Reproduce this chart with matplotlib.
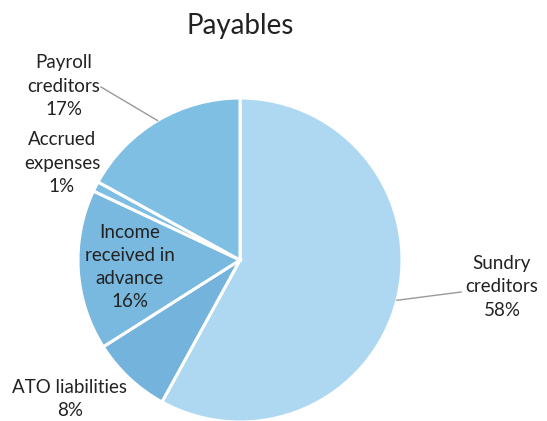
import numpy as np
import matplotlib.pyplot as plt

# data
labels = ['Sundry\ncreditors', 'ATO liabilities', 'Income\nreceived in\nadvance',
          'Accrued\nexpenses', 'Payroll\ncreditors']
values = [58, 8, 16, 1, 17]
colors = ['#aed8f2', '#74b3dc', '#79b8df', '#7fbee4', '#80bfe4']

plt.rcParams['font.family'] = ['Lato', 'DejaVu Sans']

fig = plt.figure(figsize=(5.47, 4.21), dpi=100)
ax = fig.add_axes([0, 0, 1, 1])

cx, cy, r = 240, 421 - 260, 162
wedges, _ = ax.pie(values, colors=colors, startangle=90, counterclock=False,
                   center=(cx, cy), radius=r, frame=True,
                   wedgeprops=dict(edgecolor='white', linewidth=2.2))
ax.set_xlim(0, 547)
ax.set_ylim(0, 421)
ax.set_aspect('equal')
ax.axis('off')

fig.text(0.44, 1 - 26 / 421, 'Payables', ha='center', va='center', fontsize=20, color='#222222')

# label positions in pixel coords (x, y from top)
label_pos = [(502, 287), (70, 399), (130, 267), (62, 163), (64, 86)]
for w, lab, v, (px, py) in zip(wedges, labels, values, label_pos):
    txt = f'{lab}\n{v}%'
    ax.text(px, 421 - py, txt, ha='center', va='center', fontsize=13.5,
            color='#222222', linespacing=1.45)

# leader lines
mid = np.deg2rad((wedges[0].theta1 + wedges[0].theta2) / 2)
ax.plot([cx + r * np.cos(mid), 461], [cy + r * np.sin(mid), 421 - 292],
        color='#999999', lw=1)
mid = np.deg2rad((wedges[4].theta1 + wedges[4].theta2) / 2)
ax.plot([cx + r * np.cos(mid), 101], [cy + r * np.sin(mid), 421 - 87],
        color='#999999', lw=1)

fig.savefig('out.png', dpi=100)
